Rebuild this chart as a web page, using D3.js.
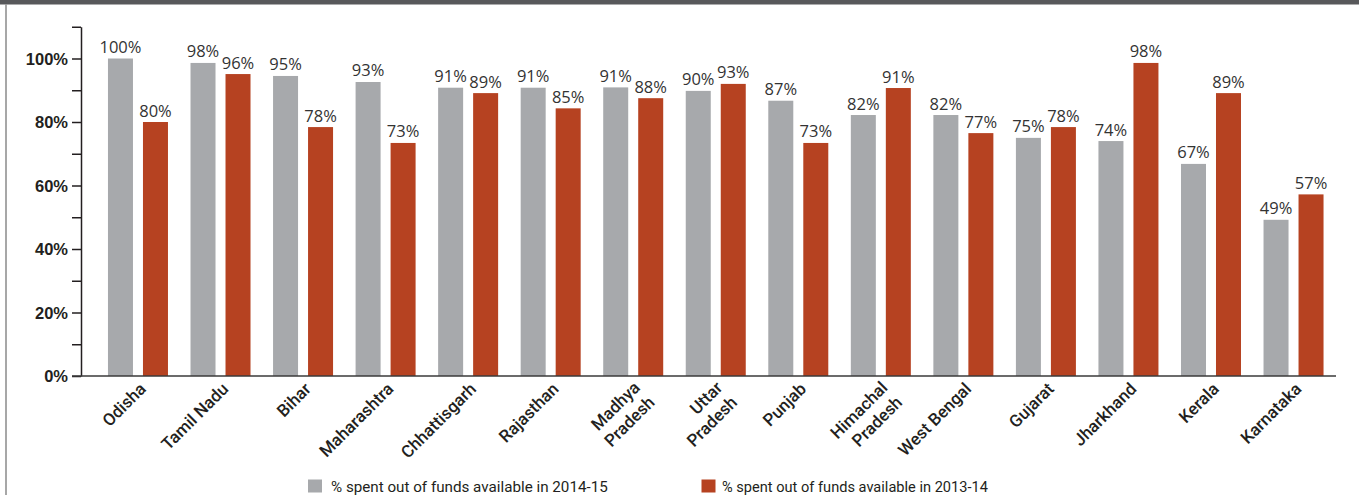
<!DOCTYPE html>
<html>
<head>
<meta charset="utf-8">
<script src="https://cdn.jsdelivr.net/npm/d3@7"></script>
<style>
  html, body { margin: 0; padding: 0; background: #fff; }
  svg { display: block; }
</style>
</head>
<body>
<svg id="chart" width="1359" height="495"></svg>
<script>
// ---- data ----
const categories = ["Odisha", "Tamil Nadu", "Bihar", "Maharashtra", "Chhattisgarh", "Rajasthan",
  "Madhya\nPradesh", "Uttar\nPradesh", "Punjab", "Himachal\nPradesh", "West Bengal", "Gujarat",
  "Jharkhand", "Kerala", "Karnataka"];
const spent2014_15 = [100, 98.6, 94.5, 92.6, 90.8, 90.8, 90.9, 89.8, 86.7, 82.2, 82.2, 75, 74.0, 66.8, 49.2];
const spent2013_14 = [80, 95.1, 78.4, 73.4, 89.1, 84.3, 87.5, 92.0, 73.4, 90.7, 76.5, 78.4, 98.6, 89.1, 57.2];
const labels2014_15 = ["100%", "98%", "95%", "93%", "91%", "91%", "91%", "90%", "87%", "82%", "82%", "75%", "74%", "67%", "49%"];
const labels2013_14 = ["80%", "96%", "78%", "73%", "89%", "85%", "88%", "93%", "73%", "91%", "77%", "78%", "98%", "89%", "57%"];
const seriesKeys = ["s2014_15", "s2013_14"];
const seriesNames = ["% spent out of funds available in 2014-15", "% spent out of funds available in 2013-14"];
const seriesColors = ["#a7a9ac", "#b64221"];
const yTickValues = [0, 10, 20, 30, 40, 50, 60, 70, 80, 90, 100, 110];

// ---- layout ----
const W = 1359, H = 495;
const svg = d3.select("#chart");
const axisX = 81, baseY = 376, topY = 26.75;
const ink = "#231f20";

svg.append("rect").attr("x", 0).attr("y", 0).attr("width", W).attr("height", 4.5).attr("fill", "#58595b");
svg.append("line").attr("x1", 6).attr("x2", 6).attr("y1", 4.5).attr("y2", H)
  .attr("stroke", "#8a8a8a").attr("stroke-width", 1.5);

const y = d3.scaleLinear().domain([0, 110]).range([baseY, topY]);
const x = d3.scaleBand().domain(categories).range([96.7, 1334.8]).padding(0);
const bw = x.bandwidth();
const x1 = d3.scaleBand().domain(seriesKeys).range([bw / 2 - 30, bw / 2 + 30])
  .paddingInner(2 - 60 / 35).paddingOuter(0);

const rows = categories.map((c, i) => ({
  cat: c,
  vals: [
    { key: seriesKeys[0], v: spent2014_15[i], label: labels2014_15[i], color: seriesColors[0] },
    { key: seriesKeys[1], v: spent2013_14[i], label: labels2013_14[i], color: seriesColors[1] }
  ]
}));

// bars
const g = svg.append("g").selectAll("g").data(rows).join("g")
  .attr("transform", d => `translate(${x(d.cat)},0)`);
g.selectAll("rect").data(d => d.vals).join("rect")
  .attr("x", d => x1(d.key))
  .attr("width", x1.bandwidth())
  .attr("y", d => y(d.v))
  .attr("height", d => y(0) - y(d.v))
  .attr("fill", d => d.color);
g.selectAll("text").data(d => d.vals).join("text")
  .attr("x", d => x1(d.key) + x1.bandwidth() / 2)
  .attr("y", d => y(d.v) - 5.5)
  .attr("text-anchor", "middle")
  .attr("font-family", "'Open Sans', sans-serif")
  .attr("font-size", 16.5)
  .attr("fill", "#333333")
  .text(d => d.label);

// y axis
const yAxis = d3.axisLeft(y).tickValues(yTickValues).tickSize(9).tickSizeOuter(0).tickPadding(4)
  .tickFormat(d => (d % 20 === 0 && d <= 100) ? d + "%" : "");
const ya = svg.append("g").attr("transform", `translate(${axisX},0)`).call(yAxis);
ya.select(".domain").attr("stroke", ink).attr("stroke-width", 1.5);
ya.selectAll(".tick line").attr("stroke", ink).attr("stroke-width", 1.5);
ya.selectAll(".tick text")
  .attr("font-family", "'Liberation Sans', Arial, sans-serif")
  .attr("font-weight", "bold")
  .attr("font-size", 16.5)
  .attr("fill", ink)
  .attr("dy", "0.36em");

// baseline
svg.append("line").attr("x1", 72).attr("x2", 1336).attr("y1", y(0)).attr("y2", y(0))
  .attr("stroke", "#3a3a3a").attr("stroke-width", 1.5);

// category labels
const lab = svg.append("g").selectAll("text").data(categories).join("text")
  .attr("transform", d => `translate(${x(d) + bw / 2 + 9},${baseY + 14}) rotate(-45)`)
  .attr("text-anchor", "end")
  .attr("font-family", "Roboto, 'Liberation Sans', sans-serif")
  .attr("font-weight", 500)
  .attr("font-size", 17)
  .attr("fill", ink);
lab.each(function (d) {
  const lines = d.split("\n");
  const t = d3.select(this);
  lines.forEach((ln, i) => {
    t.append("tspan").attr("x", 0).attr("dy", i === 0 ? (lines.length > 1 ? "-0.1em" : "0em") : "1.22em").text(ln);
  });
});

// legend
const legendX = [308, 701.5];
const textX = [331, 722];
const legendSize = [15.2, 14.6];
const leg = svg.append("g").selectAll("g").data(seriesNames).join("g");
leg.append("rect")
  .attr("x", (d, i) => legendX[i]).attr("y", 479.5)
  .attr("width", 14).attr("height", 13)
  .attr("fill", (d, i) => seriesColors[i]);
leg.append("text")
  .attr("x", (d, i) => textX[i]).attr("y", 491.5)
  .attr("font-family", "Roboto, 'Liberation Sans', sans-serif")
  .attr("font-weight", 400)
  .attr("font-size", (d, i) => legendSize[i])
  .attr("fill", ink)
  .text(d => d);
</script>
</body>
</html>
